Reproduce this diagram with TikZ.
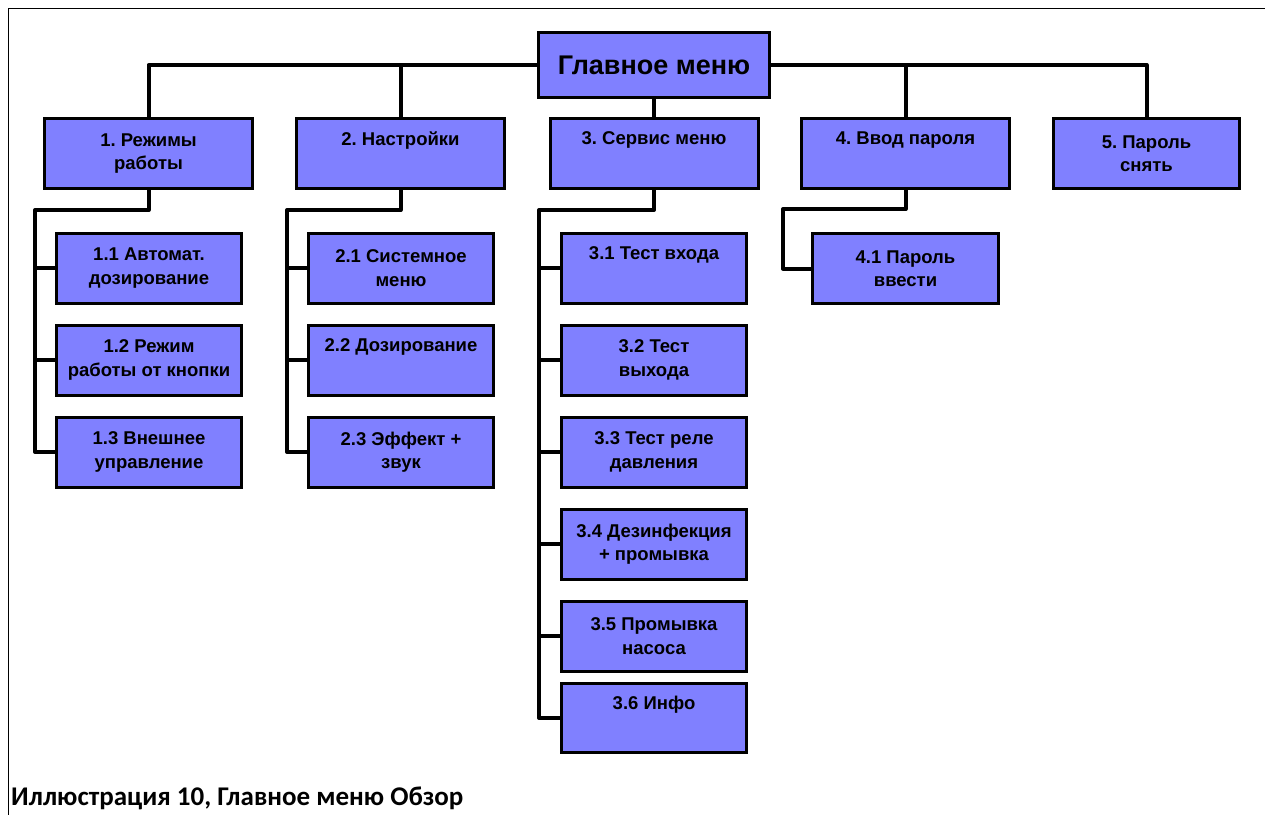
\documentclass[tikz,border=0pt]{standalone}
\usepackage{fontspec}
\setmainfont{Liberation Sans}
\newfontfamily\capfont{Carlito}
\definecolor{boxfill}{RGB}{128,128,255}
\frenchspacing
\begin{document}
\begin{tikzpicture}[x=1pt,y=-1pt,
  box/.style={draw=black, line width=2pt, fill=boxfill, inner sep=0pt,
    minimum width=184pt, minimum height=69pt, align=center,
    font=\fontsize{18.5}{23.5}\selectfont\bfseries},
  topbox/.style={box, minimum width=207pt},
  conn/.style={line width=4pt, line join=round}]
\useasboundingbox (0,0) rectangle (1265,815);
\draw[line width=1pt] (1265,8) -- (8,8) -- (8,815);

\node[box, minimum width=230pt, minimum height=64pt,
  font=\fontsize{27}{32}\selectfont\bfseries] (main) at (654,65) {Главное меню};

\node[topbox] (b1) at (148.5,153.5) {1. Режимы\\работы};
\node[topbox] (b2) at (400.5,153.5) {2. Настройки\\\strut};
\node[topbox] (b3) at (654,153.5) {3. Сервис меню\\\strut};
\node[topbox] (b4) at (905.5,153.5) {4. Ввод пароля\\\strut};
\node[box, minimum width=185pt] (b5) at (1146.5,153.5) {5. Пароль\\снять};

\node[box] (b11) at (149,268) {1.1 Автомат.\\дозирование};
\node[box] (b12) at (149,360) {1.2 Режим\\работы от кнопки};
\node[box] (b13) at (149,452) {1.3 Внешнее\\управление};

\node[box] (b21) at (401,268) {2.1 Системное\\меню};
\node[box] (b22) at (401,360) {2.2 Дозирование\\\strut};
\node[box] (b23) at (401,452) {2.3 Эффект +\\звук};

\node[box] (b31) at (654,268) {3.1 Тест входа\\\strut};
\node[box] (b32) at (654,360) {3.2 Тест\\выхода};
\node[box] (b33) at (654,452) {3.3 Тест реле\\давления};
\node[box] (b34) at (654,544) {3.4 Дезинфекция\\+ промывка};
\node[box] (b35) at (654,636) {3.5 Промывка\\насоса};
\node[box, minimum height=68pt] (b36) at (654,718) {3.6 Инфо\\\strut};

\node[box, minimum width=185pt] (b41) at (905.5,268.5) {4.1 Пароль\\ввести};

\coordinate (j1) at (35,210);
\coordinate (j2) at (287,210);
\coordinate (j3) at (539,210);
\coordinate (j4) at (783,209);

\node[font=\capfont\fontsize{27}{32}\selectfont\bfseries, anchor=west, inner sep=0pt]
  (cap) at (11,798) {Иллюстрация 10, Главное меню Обзор};

% connectors
\draw[conn] (main.west) -| (b1.north);
\draw[conn] (main.west) -| (b2.north);
\draw[conn] (main.east) -| (b4.north);
\draw[conn] (main.east) -| (b5.north);
\draw[conn] (main.south) -- (b3.north);

\draw[conn] (b1.south) |- (j1) |- (b13.west);
\draw[conn] (j1 |- b11.west) -- (b11.west);
\draw[conn] (j1 |- b12.west) -- (b12.west);

\draw[conn] (b2.south) |- (j2) |- (b23.west);
\draw[conn] (j2 |- b21.west) -- (b21.west);
\draw[conn] (j2 |- b22.west) -- (b22.west);

\draw[conn] (b3.south) |- (j3) |- (b36.west);
\draw[conn] (j3 |- b31.west) -- (b31.west);
\draw[conn] (j3 |- b32.west) -- (b32.west);
\draw[conn] (j3 |- b33.west) -- (b33.west);
\draw[conn] (j3 |- b34.west) -- (b34.west);
\draw[conn] (j3 |- b35.west) -- (b35.west);

\draw[conn] (b4.south) |- (j4) |- (b41.west);

% redraw box outlines on top of connector ends
\foreach \n in {main,b1,b2,b3,b4,b5,b11,b12,b13,b21,b22,b23,b31,b32,b33,b34,b35,b36,b41}
  \draw[line width=2pt] (\n.north west) rectangle (\n.south east);
\end{tikzpicture}
\end{document}
